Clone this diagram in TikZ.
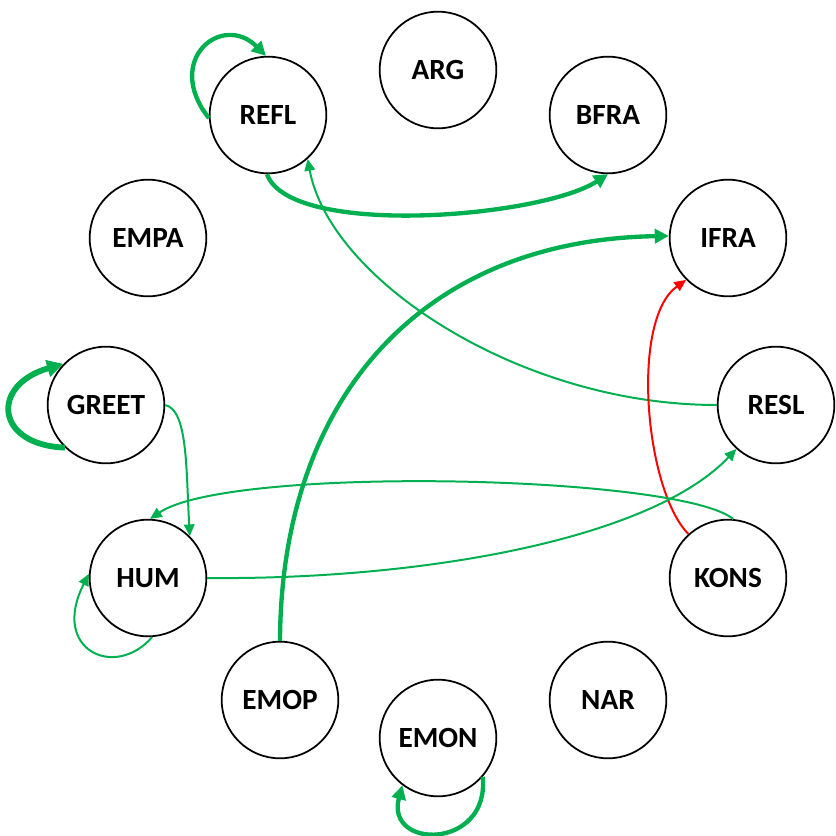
\documentclass[tikz,border=0pt]{standalone}
\usepackage{fontspec}
\setmainfont{Carlito}
\usetikzlibrary{arrows.meta}
\definecolor{eg}{HTML}{00B050}
\definecolor{er}{HTML}{FF0000}
\begin{document}
\begin{tikzpicture}[x=0.03cm,y=-0.03cm,
  stnode/.style={circle,draw=black,line width=1.5pt,minimum size=3.5cm,inner sep=0pt,font=\fontsize{25}{30}\selectfont\bfseries},
  thinedge/.style={draw=eg,line width=1.7pt,-{Triangle[length=10pt,width=9pt]}},
  thickedge/.style={draw=eg,line width=3.7pt,-{Triangle[length=12pt,width=12pt]}},
  heavyedge/.style={draw=eg,line width=5pt,-{Triangle[length=14pt,width=14pt]}},
  rededge/.style={draw=er,line width=1.7pt,-{Triangle[length=10pt,width=9pt]}}
]
\useasboundingbox (0,0) rectangle (836,836);
\node[stnode] (ARG)   at (438,70)  {ARG};
\node[stnode] (REFL)  at (268,115) {REFL};
\node[stnode] (BFRA)  at (608,115) {BFRA};
\node[stnode] (EMPA)  at (148,238) {EMPA};
\node[stnode] (IFRA)  at (728,238) {IFRA};
\node[stnode] (GREET) at (106,405) {GREET};
\node[stnode] (RESL)  at (776,405) {RESL};
\node[stnode] (HUM)   at (148,578) {HUM};
\node[stnode] (KONS)  at (728,578) {KONS};
\node[stnode] (EMOP)  at (280,700) {EMOP};
\node[stnode] (NAR)   at (608,700) {NAR};
\node[stnode] (EMON)  at (438,738) {EMON};

% self loops
\draw[thickedge] (REFL.183) .. controls (163,60) and (222,12) .. (REFL.92);
\draw[heavyedge] (GREET.226) .. controls (-5,445) and (-10,385) .. (GREET.136);
\draw[thinedge] (HUM.274) .. controls (115,680) and (50,650) .. (HUM.176);
\draw[thickedge] (EMON.319) .. controls (490,850) and (385,850) .. (EMON.233);

% other edges
\draw[thickedge] (REFL.269) .. controls (290,238) and (540,218) .. (BFRA.270);
\draw[thinedge] (RESL.180) .. controls (520,405) and (330,280) .. (REFL.312);
\draw[thickedge] (EMOP.90) .. controls (281,400) and (420,240) .. (IFRA.178);
\draw[rededge] (KONS.132) .. controls (645,490) and (630,320) .. (IFRA.225);
\draw[thinedge] (GREET.0) .. controls (188,410) and (186,470) .. (HUM.45);
\draw[thinedge] (KONS.85) .. controls (680,475) and (230,465) .. (HUM.88);
\draw[thinedge] (HUM.0) .. controls (420,580) and (650,540) .. (RESL.228);
\end{tikzpicture}
\end{document}
